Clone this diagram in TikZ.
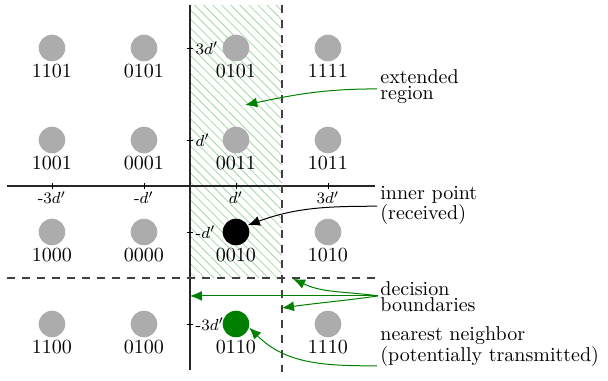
\documentclass[tikz,border=0pt]{standalone}
\usepackage{amsmath}
\usepackage{tikz}
\usetikzlibrary{calc}
\usetikzlibrary{positioning}
\usetikzlibrary{arrows.meta}
\usetikzlibrary{patterns.meta}
\definecolor{darkgreen}{RGB}{0,128,0}
\definecolor{hatchgreen}{RGB}{165,215,165}

\begin{document}
\begin{tikzpicture}
		[
		x=0.808cm, y=0.808cm,
		>={Latex[length=6pt,width=5pt]}
		]
		
		% Styles for the constellation points and the notes
		\tikzstyle{symbol}=[circle,inner sep=0,minimum size=13.3pt,fill=gray!65];
		\tikzstyle{received}=[symbol,fill=black];
		\tikzstyle{nearest}=[symbol,fill=darkgreen];
		\tikzstyle{bits}=[inner sep=0];
		\tikzstyle{tick label}=[font=\footnotesize,inner sep=1pt];
		\tikzstyle{note}=[anchor=base west,align=left,inner sep=0,font=\fontsize{10}{8}\selectfont];
		\tikzstyle{pointer}=[->,darkgreen,line width=0.5pt];
		\tikzstyle{boundary}=[black!75,line width=0.6pt,dash pattern=on 4pt off 3.5pt];
		
		\useasboundingbox (-4.13,-4.239) rectangle (9.087,4.043);
		
		% Extended region
		\fill[pattern={Lines[angle=-45,distance=3.2pt,line width=0.4pt]},pattern color=hatchgreen] (0,-2) rectangle (2,3.93);
		
		% Axes
		\coordinate (xl) at (-3.98,0);
		\coordinate (xr) at (4.02,0);
		\coordinate (yt) at (0,3.93);
		\coordinate (yb) at (0,-4);
		\draw[black!85,line width=0.6pt] (xl) -- (xr);
		\draw[black!85,line width=0.6pt] (yt) -- (yb);
		\foreach \v/\t in {-3/-$3d'$, -1/-$d'$, 1/$d'$, 3/$3d'$} {
			\draw (\v,0.07) -- (\v,-0.07) node[tick label,below] (tx\v) {\t};
			\draw (-0.07,\v) -- (0.07,\v) node[tick label,right] (ty\v) {\t};
		}
		
		% Decision boundaries
		\coordinate (bt) at (2,3.93);
		\coordinate (bb) at (2,-4.04);
		\coordinate (bl) at (-3.98,-2);
		\coordinate (br) at (4.02,-2);
		\draw[boundary] (bt) -- (bb);
		\draw[boundary] (bl) -- (br);
		
		% The constellation
		\foreach \x/\y/\lbl [count=\n] in {-3/3/1101, -1/3/0101, 1/3/0101, 3/3/1111,
			-3/1/1001, -1/1/0001, 1/1/0011, 3/1/1011,
			-3/-1/1000, -1/-1/0000, 3/-1/1010,
			-3/-3/1100, -1/-3/0100, 3/-3/1110}
		{
			\node[symbol] (p\n) at (\x,\y) {};
			\node[bits,below=1pt of p\n] (b\n) {\lbl};
		}
		% received and transmitted
		\node[received] (rx) at (1,-1) {};
		\node[bits,below=1pt of rx] (brx) {0010};
		\node[nearest] (nn) at (1,-3) {};
		\node[bits,below=1pt of nn] (bnn) {0110};
		
		% Notes
		\node[note] (ext) at (4.13,1.87) {extended\\region};
		\node[note] (inp) at (4.13,-0.739) {inner point\\(received)};
		\node[note] (dec) at (4.13,-2.739) {decision\\boundaries};
		\node[note] (nbr) at (4.13,-3.826) {nearest neighbor\\(potentially transmitted)};
		
		% Pointers
		\coordinate (exts) at (4.07,2.11);
		\coordinate (exte) at (1.2,1.76);
		\coordinate (inps) at (4.07,-0.44);
		\coordinate (decs) at (4.09,-2.39);
		\coordinate (deca) at (0,-2.39);
		\coordinate (decb) at (2,-2.652);
		\coordinate (decc) at (2.24,-2.02);
		\coordinate (nbrs) at (4.07,-3.91);
		\draw[pointer] (exts) to[out=180,in=12] (exte);
		\draw[->,black,line width=0.5pt] (inps) to[out=180,in=20] (rx.30);
		\draw[pointer] (decs) -- (deca);
		\draw[pointer] (decs) to[out=188,in=8] (decb);
		\draw[pointer] (decs) to[out=172,in=-25] (decc);
		\draw[pointer] (nbrs) to[out=180,in=-45] (nn.-15);
		\end{tikzpicture}
\end{document}
